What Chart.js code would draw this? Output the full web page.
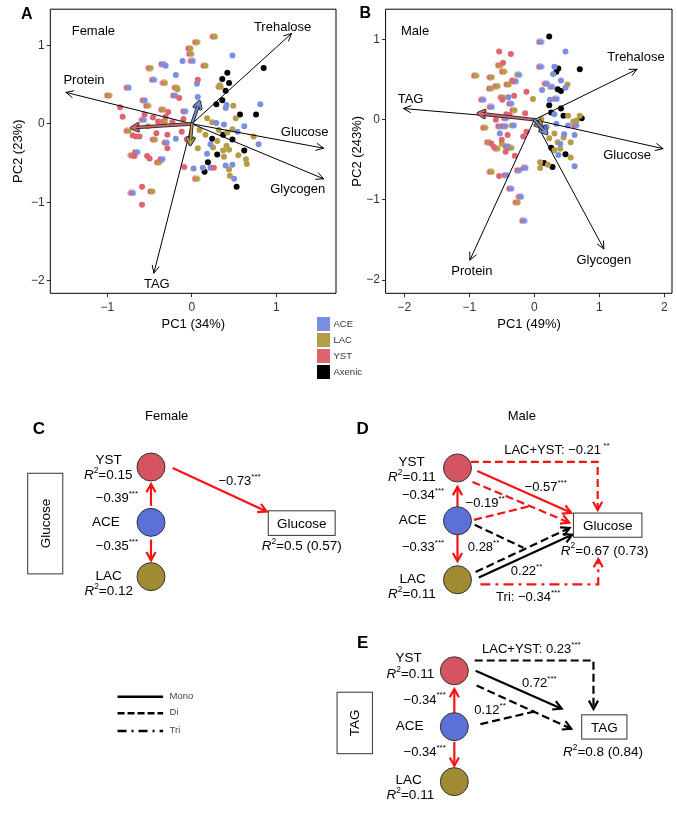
<!DOCTYPE html>
<html>
<head>
<meta charset="utf-8">
<script src="https://cdn.jsdelivr.net/npm/chart.js@4.4.1/dist/chart.umd.min.js"></script>
<style>
  body { margin: 0; background: #fff; }
  #page { position: relative; width: 677px; height: 819px; overflow: hidden; font-family: "Liberation Sans", Arial, sans-serif; }
  canvas { position: absolute; }
  .key { position: absolute; left: 316.7px; width: 13.3px; height: 14px; }
  .keytxt { position: absolute; left: 333.5px; font-size: 9.5px; color: #333; line-height: 14px; }
</style>
</head>
<body>
<div id="page">
  <canvas id="pcaF" width="340" height="335" style="left:0;top:0"></canvas>
  <canvas id="pcaM" width="340" height="335" style="left:337px;top:0"></canvas>
  <canvas id="paths" width="677" height="439" style="left:0;top:380px"></canvas>
  <div id="groupKey"></div>
</div>
<script>
const FONT = '"Liberation Sans", Arial, sans-serif';

// groups
const groupNames = ['ACE', 'LAC', 'YST', 'Axenic'];
const groupColors = ['#7b8ee2', '#b59d47', '#e0646f', '#000000'];

// ---- PCA scores, female (PC1, PC2) ----
const femYST = [[0.07,0.56],[-0.15,0.33],[-0.85,0.21],[-0.82,0.09],[-0.28,0.15],[-0.31,0.09],[-0.10,0.06],[-0.46,0.08],[-0.40,0.03],[-0.66,-0.16],[-0.70,-0.15],[-0.42,-0.12],[-0.29,-0.14],[-0.12,-0.10],[-0.29,-0.31],[-0.68,-0.41],[-0.53,-0.41],[-0.50,-0.44],[-0.59,-0.80],[-0.59,-1.03],[-0.09,-0.55],[0.26,-0.56],[-0.06,-0.20],[-0.62,-0.16],[-0.56,0.12],[-0.23,0.02]];
const femACE = [[0.48,0.87],[-0.11,0.80],[-0.31,0.74],[-0.19,0.62],[0.06,0.51],[0.07,0.34],[0.41,0.24],[0.40,0.20],[0.81,0.25],[-0.19,-0.19],[0.02,-0.57],[0.79,-0.26],[0.62,-0.03],[0.54,-0.10],[0.29,0.01],[0.38,-0.01],[0.22,-0.26],[0.18,-0.38],[0.48,-0.52],[0.50,-0.70],[0.13,-0.56],[0.22,-0.56],[0.40,-0.53]];
const femLAC = [[-0.17,0.44],[0.33,0.49],[0.49,0.23],[0.52,0.07],[-0.52,-0.03],[0.73,-0.16],[0.64,-0.45],[0.65,-0.51],[0.18,0.07],[0.24,0.02],[0.32,-0.08],[0.48,-0.07],[0.42,-0.11],[0.09,-0.08],[0.16,-0.14],[0.07,-0.31],[0.30,-0.22],[0.41,-0.28],[0.37,-0.34],[0.44,-0.33],[0.38,-0.42],[0.44,-0.58],[0.45,-0.66],[0.25,-0.30],[0.55,-0.40]];
const femAxenic = [[0.85,0.71],[0.42,0.65],[0.36,0.57],[0.44,0.52],[0.40,0.42],[0.36,0.30],[0.29,0.25],[0.57,0.12],[0.76,0.12],[0.15,-0.61],[0.19,-0.49],[0.30,-0.39],[0.24,-0.19],[0.37,-0.14],[0.48,-0.20],[0.62,-0.34],[0.53,-0.80]];
const femYSTACE = [[0.00,0.80],[-0.35,0.76],[-0.46,0.56],[-0.76,0.46],[-0.57,0.30],[-0.09,0.16],[-0.58,0.05],[-0.31,-0.24],[-0.36,-0.45],[-0.71,-0.88],[-0.21,0.36],[-0.66,-0.36]];
const femYSTLAC = [[0.26,1.11],[0.05,1.04],[-0.03,0.96],[-0.02,0.89],[0.15,0.74],[-0.50,0.71],[-0.33,0.52],[-0.19,0.46],[-0.99,0.36],[-0.53,0.23],[-0.35,0.18],[-0.33,0.03],[-0.76,-0.09],[-0.45,-0.20],[-0.71,-0.40],[-0.40,-0.49],[-0.48,-0.86],[0.05,-0.70],[0.33,0.47]];

// ---- PCA scores, male ----
const maleYST = [[-0.54,0.85],[-0.36,0.82],[-0.48,0.71],[-0.34,0.49],[-0.12,0.35],[-0.49,0.25],[-0.31,0.30],[-0.43,0.07],[-0.59,0.00],[-0.14,0.08],[-0.41,-0.19],[-0.50,-0.25],[-0.66,-0.30],[-0.44,-0.40],[-0.17,-0.21],[-0.54,-0.70],[-0.12,-0.15],[-0.38,0.06],[-0.62,-0.34],[-0.30,-0.45]];
const maleACE = [[-0.40,0.28],[-0.53,-0.17],[0.48,0.85],[0.31,0.66],[0.29,0.57],[0.41,0.49],[0.12,0.37],[0.24,0.25],[0.31,0.07],[0.52,-0.07],[0.34,-0.05],[0.19,-0.09],[0.46,-0.18],[0.62,-0.19],[0.62,-0.58],[0.48,0.40],[0.40,-0.30],[0.37,-0.44]];
const maleLAC = [[-0.50,-0.30],[-0.02,0.26],[0.51,0.44],[0.52,0.05],[0.70,0.05],[0.65,-0.01],[0.11,0.01],[0.23,-0.23],[0.31,-0.17],[0.36,-0.28],[0.56,-0.28],[0.31,-0.38],[0.56,-0.47],[0.09,-0.53],[0.21,-0.56],[0.09,-0.60],[0.45,-0.22],[0.40,-0.36],[0.60,-0.02]];
const maleAxenic = [[0.23,1.04],[0.37,0.64],[0.34,0.60],[0.70,0.63],[0.36,0.38],[0.41,0.36],[0.23,0.18],[0.41,0.14],[0.26,0.09],[0.45,0.05],[0.73,0.02],[0.26,-0.35],[0.48,-0.43],[0.15,-0.54],[0.28,-0.59]];
const maleYSTACE = [[-0.30,0.48],[-0.80,0.25],[-0.67,0.16],[-0.37,0.20],[-0.45,0.02],[-0.54,-0.08],[-0.46,-0.08],[-0.43,-0.33],[-0.44,-0.69],[-0.25,-0.63],[-0.15,-0.60],[-0.37,-0.86],[-0.22,-0.96],[-0.17,-1.26],[0.09,0.97],[0.09,0.66],[0.18,0.45],[0.33,0.26],[0.63,-0.07]];
const maleYSTLAC = [[-0.54,0.68],[-0.48,0.60],[-0.91,0.55],[-0.67,0.53],[-0.68,0.39],[-0.41,0.44],[-0.58,0.42],[-0.50,0.28],[-0.32,0.12],[-0.77,-0.10],[-0.71,-0.28],[-0.58,-0.36],[-0.37,-0.35],[-0.67,-0.65],[-0.27,-1.03]];
const maleACELAC = [[-0.25,0.56],[-0.33,-0.07],[0.26,0.41]];

// loadings
const femLoadNames = ['Trehalose', 'Protein', 'Glucose', 'Glycogen', 'TAG'];
const femLoadPC1 = [1.18, -1.49, 1.56, 1.56, -0.45];
const femLoadPC2 = [1.15, 0.40, -0.31, -0.70, -1.90];
const maleLoadNames = ['Trehalose', 'TAG', 'Glucose', 'Glycogen', 'Protein'];
const maleLoadPC1 = [1.58, -2.01, 1.98, 1.07, -0.99];
const maleLoadPC2 = [0.63, 0.14, -0.36, -1.61, -1.75];
// group effect arrows: YST, ACE, LAC
const femGroupPC1 = [-0.71, 0.09, -0.02];
const femGroupPC2 = [-0.05, 0.28, -0.26];
const maleGroupPC1 = [-0.86, 0.12, 0.19];
const maleGroupPC2 = [0.08, -0.09, -0.17];

// axis ticks
const femXTicks = [-1, 0, 1];
const femYTicks = [-2, -1, 0, 1];
const maleXTicks = [-2, -1, 0, 1, 2];
const maleYTicks = [-2, -1, 0, 1];

// ---- path model coefficients ----
const femaleCoef = [-0.39, -0.35, -0.73];
const femaleStars = ['***', '***', '***'];
const femaleR2 = [0.15, 0.12];
const femaleGlucoseR2 = [0.5, 0.57];

const maleGluCoef = [-0.34, -0.33, -0.21, -0.57, -0.19, 0.28, 0.22, -0.34];
const maleGluStars = ['***', '***', '**', '***', '**', '**', '**', '***'];
const maleGluR2 = [0.11, 0.11];
const maleGlucoseR2 = [0.67, 0.73];

const maleTagCoef = [-0.34, -0.34, 0.23, 0.72, 0.12];
const maleTagStars = ['***', '***', '***', '***', '**'];
const maleTagR2 = [0.11, 0.11];
const maleTagOutR2 = [0.8, 0.84];

const num = v => (v < 0 ? '\u2212' : '') + Math.abs(v);

// two-tone dot used for mixed colonisations
function duoDot(c1, c2) {
  const cv = document.createElement('canvas');
  cv.width = 9; cv.height = 7;
  const g = cv.getContext('2d');
  g.fillStyle = c1; g.beginPath(); g.arc(3.4, 3.5, 2.9, 0, Math.PI * 2); g.fill();
  g.fillStyle = c2; g.beginPath(); g.arc(5.6, 3.5, 2.9, 0, Math.PI * 2); g.fill();
  return cv;
}
const [cACE, cLAC, cYST, cAX] = groupColors;

function arrowPath(ctx, x1, y1, x2, y2, len, ang) {
  const t = Math.atan2(y2 - y1, x2 - x1);
  ctx.beginPath();
  ctx.moveTo(x1, y1); ctx.lineTo(x2, y2);
  ctx.moveTo(x2 - len * Math.cos(t - ang), y2 - len * Math.sin(t - ang));
  ctx.lineTo(x2, y2);
  ctx.lineTo(x2 - len * Math.cos(t + ang), y2 - len * Math.sin(t + ang));
}

const pcaOverlay = {
  id: 'pcaOverlay',
  afterDatasetsDraw(chart, args, o) {
    const {ctx, chartArea: a, scales: {x, y}} = chart;
    const X = v => x.getPixelForValue(v), Y = v => y.getPixelForValue(v);
    ctx.save();
    ctx.lineCap = 'round'; ctx.lineJoin = 'round';
    o.lx.forEach((lx, k) => {
      const px = X(lx), py = Y(o.ly[k]);
      arrowPath(ctx, X(0), Y(0), px, py, 8, 0.45);
      ctx.strokeStyle = '#000'; ctx.lineWidth = 1; ctx.stroke();
      ctx.font = '13px ' + FONT; ctx.fillStyle = '#000';
      ctx.textAlign = 'center'; ctx.textBaseline = 'middle';
      ctx.fillText(o.names[k], px + o.off[k][0], py + o.off[k][1]);
    });
    o.gx.forEach((gx, k) => {
      arrowPath(ctx, X(0), Y(0), X(gx), Y(o.gy[k]), 7, 0.5);
      ctx.strokeStyle = '#333'; ctx.lineWidth = 3.6; ctx.stroke();
      ctx.strokeStyle = o.gc[k]; ctx.lineWidth = 1.6; ctx.stroke();
    });
    ctx.strokeStyle = '#000'; ctx.lineWidth = 1;
    ctx.strokeRect(a.left, a.top, a.right - a.left, a.bottom - a.top);
    ctx.fillStyle = '#000'; ctx.textBaseline = 'middle';
    ctx.font = 'bold 16px ' + FONT; ctx.textAlign = 'center';
    ctx.fillText(o.letter[0], o.letter[1], o.letter[2]);
    ctx.font = '13px ' + FONT; ctx.textAlign = 'left';
    ctx.fillText(o.sex[0], o.sex[1], o.sex[2]);
    ctx.restore();
  }
};

function pcaChart(id, sets, o) {
  const datasets = sets.map(s => ({
    data: s.pts.map(p => ({x: p[0], y: p[1]})),
    pointStyle: s.img || 'circle',
    pointRadius: 3,
    pointBackgroundColor: s.color || '#000',
    pointBorderWidth: 0
  }));
  const axisFont = {family: FONT, size: 12};
  return new Chart(document.getElementById(id), {
    type: 'scatter',
    data: {datasets},
    options: {
      responsive: false, animation: false, events: [],
      layout: {padding: {top: o.top, right: o.right, left: 0, bottom: 0}},
      plugins: {legend: {display: false}, tooltip: {enabled: false}, pcaOverlay: o.overlay},
      scales: {
        x: {
          type: 'linear', min: o.xr[0], max: o.xr[1],
          afterBuildTicks: s => { s.ticks = o.xt.map(v => ({value: v})); },
          afterFit: s => { s.height = o.xh; },
          grid: {display: true, drawOnChartArea: false, drawTicks: true, tickLength: 4, color: '#333'},
          border: {display: false},
          ticks: {color: '#333', font: axisFont, padding: 3, maxRotation: 0, autoSkip: false, callback: v => num(v)},
          title: {display: true, text: o.xTitle, color: '#000', font: {family: FONT, size: 13}, padding: {top: 0, bottom: 2.8}}
        },
        y: {
          type: 'linear', min: o.yr[0], max: o.yr[1],
          afterBuildTicks: s => { s.ticks = o.yt.map(v => ({value: v})); },
          afterFit: s => { s.width = o.yw; },
          grid: {display: true, drawOnChartArea: false, drawTicks: true, tickLength: 4, color: '#333'},
          border: {display: false},
          ticks: {color: '#333', font: axisFont, padding: 2, autoSkip: false, callback: v => num(v)},
          title: {display: true, text: o.yTitle, color: '#000', font: {family: FONT, size: 13}, padding: {top: o.ytp, bottom: 0}}
        }
      }
    },
    plugins: [pcaOverlay]
  });
}

pcaChart('pcaF', [
  {pts: femYST, color: cYST}, {pts: femACE, color: cACE}, {pts: femLAC, color: cLAC},
  {pts: femYSTACE, img: duoDot(cYST, cACE)}, {pts: femYSTLAC, img: duoDot(cYST, cLAC)},
  {pts: femAxenic, color: cAX}
], {
  top: 4, right: 2.3, xh: 41.7, yw: 50.7, ytp: 11,
  xr: [-1.671, 1.706], yr: [-2.157, 1.459], xt: femXTicks, yt: femYTicks,
  xTitle: 'PC1 (34%)', yTitle: 'PC2 (23%)',
  overlay: {
    lx: femLoadPC1, ly: femLoadPC2, names: femLoadNames,
    off: [[-9, -6], [18, -12], [-19, -16], [-26, 11], [3, 11]],
    gx: femGroupPC1, gy: femGroupPC2, gc: [cYST, cACE, cLAC],
    letter: ['A', 26.7, 15], sex: ['Female', 71.7, 31]
  }
});

pcaChart('pcaM', [
  {pts: maleYST, color: cYST}, {pts: maleACE, color: cACE}, {pts: maleLAC, color: cLAC},
  {pts: maleYSTACE, img: duoDot(cYST, cACE)}, {pts: maleYSTLAC, img: duoDot(cYST, cLAC)},
  {pts: maleACELAC, img: duoDot(cLAC, cACE)},
  {pts: maleAxenic, color: cAX}
], {
  top: 6, right: 5, xh: 41.7, yw: 49, ytp: 12.8,
  xr: [-2.28, 2.118], yr: [-2.164, 1.379], xt: maleXTicks, yt: maleYTicks,
  xTitle: 'PC1 (49%)', yTitle: 'PC2 (243%)',
  overlay: {
    lx: maleLoadPC1, ly: maleLoadPC2, names: maleLoadNames,
    off: [[-1, -12], [7, -9], [-36, 7], [0, 12], [2, 11]],
    gx: maleGroupPC1, gy: maleGroupPC2, gc: [cYST, cLAC, cACE],
    letter: ['B', 28.3, 13.3], sex: ['Male', 64, 31.7]
  }
});

// group key
const key = document.getElementById('groupKey');
groupNames.forEach((n, i) => {
  const top = 316.7 + i * 16;
  key.insertAdjacentHTML('beforeend',
    `<div class="key" style="top:${top}px;background:${groupColors[i]}"></div>` +
    `<div class="keytxt" style="top:${top}px">${n}</div>`);
});

// ---- path diagrams ----
const nodeColors = {YST: '#d55461', ACE: '#5d70d8', LAC: '#a08a33'};
const RED = '#f41414', BLK = '#000000';
const DASH = [8, 4], DASHDOT = [10, 5, 3, 5];

const diagramLayout = [
  {
    letter: ['C', 25, 416.7], title: ['Female', 158.7, 403.3],
    side: {box: [13.3, 464, 50, 572], text: 'Glucose'},
    nodes: [['YST', 142.3, 457.3], ['ACE', 142.3, 516.7], ['LAC', 142.3, 575]],
    nodeLabels: [[98, 450, 'YST'], [95, 517, 'ACE'], [98, 575, 'LAC']],
    r2: [[97.5, 466, femaleR2, 0], [98, 591, femaleR2, 1]],
    out: {box: [265, 504.3, 335, 530.7], text: 'Glucose', at: [300, 542.7], r2: femaleGlucoseR2},
    edges: [
      {p: [[142.3, 499], [142.3, 475.5]], c: RED, head: true, coef: femaleCoef, s: femaleStars, i: 0, at: [106.7, 490.7]},
      {p: [[142.3, 535], [142.3, 557.5]], c: RED, head: true, coef: femaleCoef, s: femaleStars, i: 1, at: [106.7, 542.7]},
      {p: [[165, 458.3], [263.3, 505]], c: RED, head: true, coef: femaleCoef, s: femaleStars, i: 2, at: [235, 472.7]}
    ]
  },
  {
    letter: ['D', 363.7, 416.7], title: ['Male', 530.3, 403.3],
    nodes: [['YST', 463, 458.3], ['ACE', 463, 515], ['LAC', 463, 578.3]],
    nodeLabels: [[415, 452.7, 'YST'], [416, 515, 'ACE'], [416, 578.3, 'LAC']],
    r2: [[415.3, 468.3, maleGluR2, 0], [415.3, 594, maleGluR2, 1]],
    out: {box: [584.3, 506.7, 656, 532.7], text: 'Glucose', at: [617, 547.3], r2: maleGlucoseR2},
    edges: [
      {p: [[463, 500], [463, 478.5]], c: RED, head: true, coef: maleGluCoef, s: maleGluStars, i: 0, at: [427, 488.3]},
      {p: [[463, 530], [463, 558.5]], c: RED, head: true, coef: maleGluCoef, s: maleGluStars, i: 1, at: [427, 544]},
      {p: [[477, 451.7], [609.7, 451.7], [609.7, 503.5]], c: RED, d: DASH, head: true, coef: maleGluCoef, s: maleGluStars, i: 2, at: [567, 440], pre: 'LAC+YST: ', gap: true},
      {p: [[483.7, 461.7], [582, 506.5]], c: RED, head: true, coef: maleGluCoef, s: maleGluStars, i: 3, at: [555.3, 479.3]},
      {p: [[478.7, 473.3], [580, 517]], c: RED, d: DASH, head: true},
      {p: [[480.3, 514], [538.7, 499.3]], c: RED, d: DASH, coef: maleGluCoef, s: maleGluStars, i: 4, at: [492, 496.7]},
      {p: [[481, 519.3], [532, 544]], c: BLK, d: DASH, coef: maleGluCoef, s: maleGluStars, i: 5, at: [490.3, 544]},
      {p: [[482, 570], [580.3, 522.7]], c: BLK, d: DASH, head: true},
      {p: [[485.3, 576], [583, 530]], c: BLK, head: true, coef: maleGluCoef, s: maleGluStars, i: 6, at: [535.3, 569.3]},
      {p: [[487, 583.3], [610.3, 583.3], [610.3, 556]], c: RED, d: DASHDOT, head: true, coef: maleGluCoef, s: maleGluStars, i: 7, at: [537, 597.3], pre: 'Tri: '}
    ]
  },
  {
    letter: ['E', 363.7, 646.7],
    side: {box: [337, 699, 374, 765], text: 'TAG'},
    nodes: [['YST', 459.7, 676], ['ACE', 459.7, 736], ['LAC', 459.7, 795]],
    nodeLabels: [[412, 662.7, 'YST'], [413, 736, 'ACE'], [412, 794, 'LAC']],
    r2: [[413.7, 680, maleTagR2, 0], [413.7, 810, maleTagR2, 1]],
    out: {box: [593, 723.3, 640.3, 749.3], text: 'TAG', at: [615.3, 763.3], r2: maleTagOutR2},
    edges: [
      {p: [[459.7, 723.3], [459.7, 695.5]], c: RED, head: true, coef: maleTagCoef, s: maleTagStars, i: 0, at: [428.7, 707.3]},
      {p: [[459.7, 752.5], [459.7, 778]], c: RED, head: true, coef: maleTagCoef, s: maleTagStars, i: 1, at: [428.7, 763.3]},
      {p: [[481, 665], [605.3, 665], [605.3, 717]], c: BLK, d: DASH, head: true, coef: maleTagCoef, s: maleTagStars, i: 2, at: [540.3, 653.3], pre: 'LAC+YST: '},
      {p: [[482, 676], [572, 716.7]], c: BLK, head: true, coef: maleTagCoef, s: maleTagStars, i: 3, at: [548.7, 689.3]},
      {p: [[483, 691.7], [582, 738.3]], c: BLK, d: DASH, head: true},
      {p: [[487, 733.3], [545.3, 719.3]], c: BLK, d: DASH, coef: maleTagCoef, s: maleTagStars, i: 4, at: [497, 718.3]}
    ]
  }
];
const lineKey = [['Mono', [], 704], ['Di', [7, 3], 721.7], ['Tri', [9, 5, 2, 5], 740.7]];

function rich(ctx, x, y, parts, size, align) {
  const fonts = parts.map(([t, st]) => (st === 'i' ? 'italic ' : '') + (st === 'sup' ? size * 0.62 : size) + 'px ' + FONT);
  let w = 0;
  const ws = parts.map((p, k) => { ctx.font = fonts[k]; const m = ctx.measureText(p[0]).width; w += m; return m; });
  let cx = align === 'left' ? x : align === 'right' ? x - w : x - w / 2;
  ctx.textAlign = 'left'; ctx.textBaseline = 'middle';
  parts.forEach((p, k) => {
    ctx.font = fonts[k];
    ctx.fillText(p[0], cx, p[1] === 'sup' ? y - size * 0.36 : y);
    cx += ws[k];
  });
}
const r2Parts = txt => [['R', 'i'], ['2', 'sup'], ['=' + txt, '']];

const pathOverlay = {
  id: 'pathOverlay',
  afterDatasetsDraw(chart) {
    const {ctx, scales: {x, y}} = chart;
    const X = v => x.getPixelForValue(v), Y = v => y.getPixelForValue(v);
    ctx.save();
    ctx.fillStyle = '#000';
    diagramLayout.forEach(P => {
      // arrow heads
      P.edges.forEach(e => {
        if (!e.head) return;
        const n = e.p.length, a = e.p[n - 2], b = e.p[n - 1];
        const x1 = X(a[0]), y1 = Y(a[1]), x2 = X(b[0]), y2 = Y(b[1]);
        const t = Math.atan2(y2 - y1, x2 - x1), len = 9.5, ang = 0.5;
        ctx.beginPath();
        ctx.moveTo(x2 - len * Math.cos(t - ang), y2 - len * Math.sin(t - ang));
        ctx.lineTo(x2, y2);
        ctx.lineTo(x2 - len * Math.cos(t + ang), y2 - len * Math.sin(t + ang));
        ctx.setLineDash([]); ctx.strokeStyle = e.c; ctx.lineWidth = 2.2; ctx.lineJoin = 'miter'; ctx.stroke();
      });
      // boxes
      ctx.strokeStyle = '#333'; ctx.lineWidth = 1;
      [P.side, P.out].forEach(b => {
        if (!b) return;
        const [x1, y1, x2, y2] = b.box;
        ctx.strokeRect(X(x1), Y(y1), X(x2) - X(x1), Y(y2) - Y(y1));
        ctx.save();
        ctx.translate(X((x1 + x2) / 2), Y((y1 + y2) / 2));
        if (b === P.side) ctx.rotate(-Math.PI / 2);
        ctx.font = '13.5px ' + FONT; ctx.textAlign = 'center'; ctx.textBaseline = 'middle';
        ctx.fillText(b.text, 0, 1);
        ctx.restore();
      });
      if (P.out) {
        const r = P.out.r2;
        rich(ctx, X(P.out.at[0]), Y(P.out.at[1]), r2Parts(num(r[0]) + ' (' + num(r[1]) + ')'), 13.5, 'center');
      }
      // panel letter and title
      ctx.font = 'bold 17px ' + FONT; ctx.textAlign = 'center'; ctx.textBaseline = 'middle';
      ctx.fillText(P.letter[0], X(P.letter[1]), Y(P.letter[2]));
      if (P.title) { ctx.font = '13px ' + FONT; ctx.fillText(P.title[0], X(P.title[1]), Y(P.title[2])); }
      // node labels
      P.nodeLabels.forEach(l => {
        ctx.font = '13.5px ' + FONT; ctx.textAlign = 'center'; ctx.textBaseline = 'middle';
        ctx.fillText(l[2], X(l[0]), Y(l[1]));
      });
      P.r2.forEach(r => rich(ctx, X(r[0]), Y(r[1]), r2Parts(num(r[2][r[3]])), 13.5, 'center'));
      // coefficient labels
      P.edges.forEach(e => {
        if (!e.coef) return;
        rich(ctx, X(e.at[0]), Y(e.at[1]),
          [[(e.pre || '') + num(e.coef[e.i]), ''], [(e.gap ? ' ' : '') + e.s[e.i], 'sup']], 13, 'center');
      });
    });
    // line-type key
    lineKey.forEach(([name, dash, ly]) => {
      ctx.beginPath(); ctx.setLineDash(dash);
      ctx.moveTo(X(107.3), Y(ly)); ctx.lineTo(X(155), Y(ly));
      ctx.strokeStyle = '#000'; ctx.lineWidth = 2.5; ctx.stroke();
      ctx.setLineDash([]);
      ctx.font = '9.5px ' + FONT; ctx.fillStyle = '#444'; ctx.textAlign = 'left'; ctx.textBaseline = 'middle';
      ctx.fillText(name, X(161.7), Y(ly - 1));
    });
    ctx.restore();
  }
};

const nodePts = [], nodeCols = [];
diagramLayout.forEach(P => P.nodes.forEach(n => { nodePts.push({x: n[1], y: n[2]}); nodeCols.push(nodeColors[n[0]]); }));
const pathSets = [{
  data: nodePts, pointRadius: 14, pointBackgroundColor: nodeCols,
  pointBorderColor: '#333', pointBorderWidth: 1, clip: false
}];
diagramLayout.forEach(P => P.edges.forEach(e => pathSets.push({
  data: e.p.map(q => ({x: q[0], y: q[1]})), showLine: true, borderColor: e.c,
  borderWidth: 2.2, borderDash: e.d || [], pointRadius: 0, clip: false, tension: 0
})));

new Chart(document.getElementById('paths'), {
  type: 'scatter',
  data: {datasets: pathSets},
  options: {
    responsive: false, animation: false, events: [],
    layout: {padding: 0},
    plugins: {legend: {display: false}, tooltip: {enabled: false}},
    scales: {
      x: {type: 'linear', display: false, min: 0, max: 677},
      y: {type: 'linear', display: false, min: 380, max: 819, reverse: true}
    }
  },
  plugins: [pathOverlay]
});
</script>
</body>
</html>
